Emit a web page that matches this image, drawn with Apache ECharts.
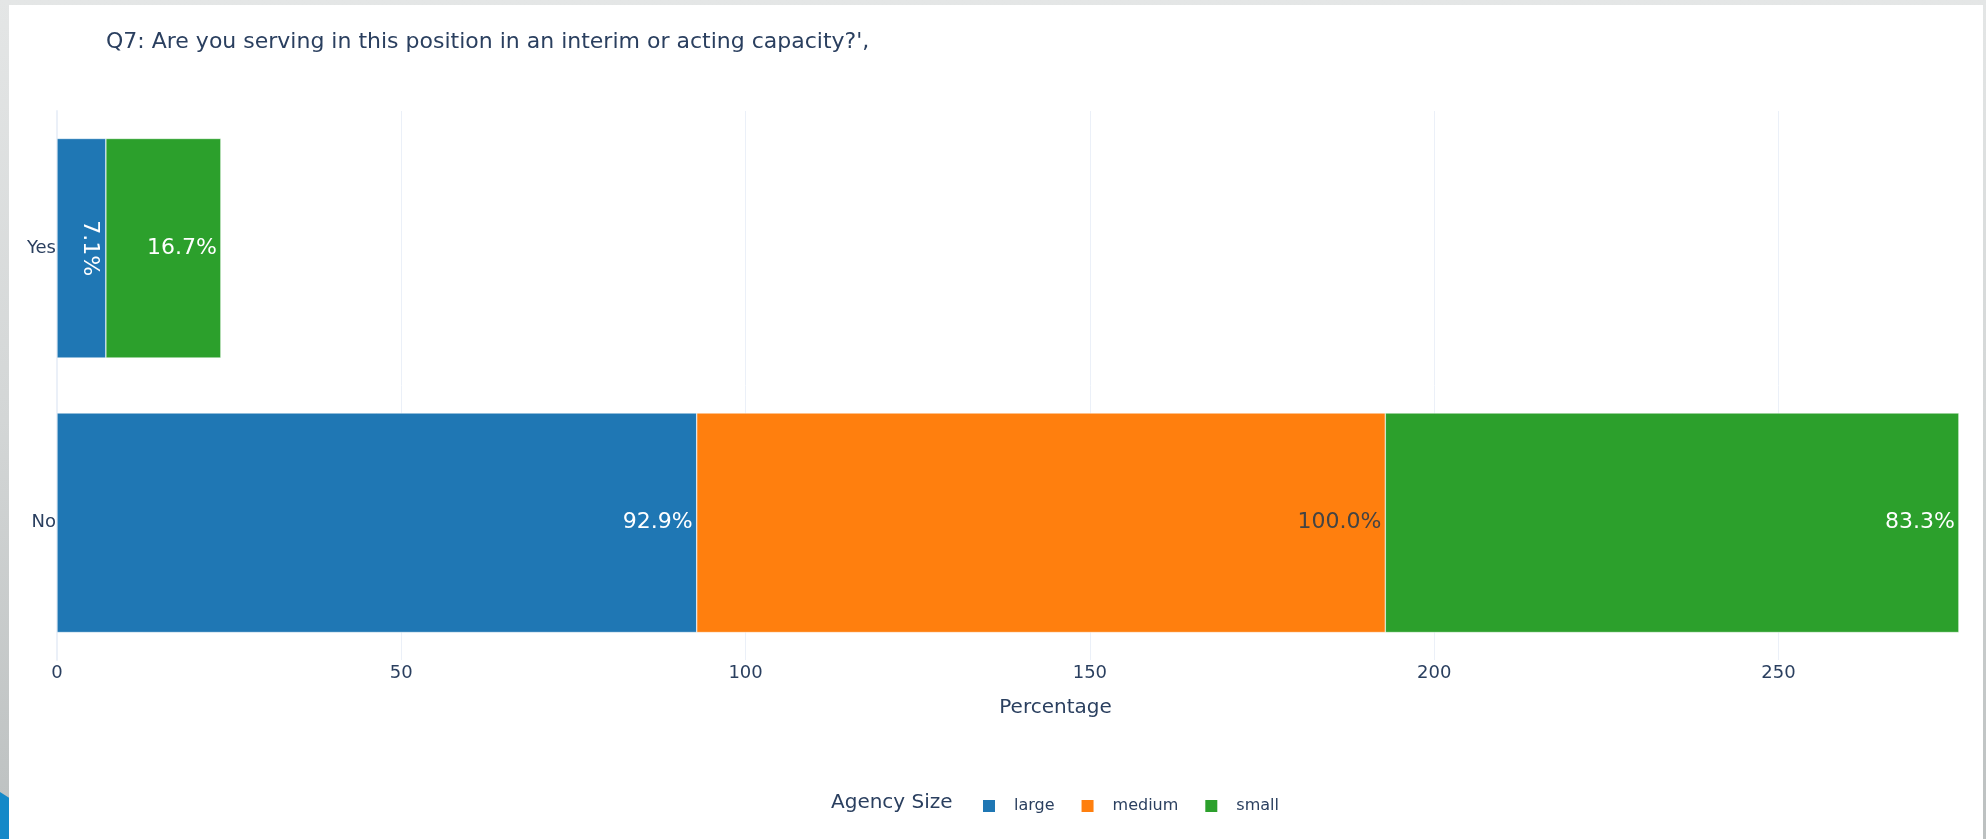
<!DOCTYPE html>
<html>
<head>
<meta charset="utf-8">
<title>Q7: Interim or acting capacity</title>
<script src="https://cdn.jsdelivr.net/npm/echarts@6/dist/echarts.min.js"></script>
<style>
  html, body { margin: 0; padding: 0; width: 1986px; height: 839px; overflow: hidden; }
  body { background: linear-gradient(to bottom, #e4e6e6 0%, #d3d6d6 50%, #bcc0c0 100%); position: relative; }
  #chart { position: absolute; left: 9px; top: 5px; width: 2100px; height: 834px; background: #ffffff; }
  #edge { position: absolute; left: 1983px; top: 0; width: 3px; height: 839px; z-index: 2;
          background: linear-gradient(to bottom, #e4e6e6 0%, #d3d6d6 50%, #bcc0c0 100%); }
  #corner { position: absolute; left: 0; top: 792px; width: 9px; height: 47px; background: #1589c8; z-index: 2;
            clip-path: polygon(0 0, 100% 12%, 100% 100%, 0 100%); }
</style>
</head>
<body>
<div id="chart"></div>
<div id="edge"></div>
<div id="corner"></div>
<script>
// Answers, top row first
const categories = ['Yes', 'No'];
// Share of respondents (%) per agency size
const largeValues = [7.1, 92.9];
const mediumValues = [null, 100.0];
const smallValues = [16.7, 83.3];
const xTicks = [0, 50, 100, 150, 200, 250];
const legendTitle = 'Agency Size';
const chartTitle = "Q7: Are you serving in this position in an interim or acting capacity?',";

const FONT = '"DejaVu Sans", Verdana, sans-serif';
const INK = '#2a3f5f';
const GRID = '#ebf0f8';

// Value axis runs a little past the longest stack
const stackTotals = categories.map((_, i) =>
  (largeValues[i] || 0) + (mediumValues[i] || 0) + (smallValues[i] || 0));
const xMax = Math.max(...stackTotals) * 1.05;

const pct = p => p.value == null ? '' : Number(p.value).toFixed(1) + '%';

function barLabel(color) {
  return {
    show: true,
    position: 'insideRight',
    distance: 4,
    formatter: pct,
    color: color,
    fontSize: 22,
    fontFamily: FONT
  };
}

// The narrow "Yes" segment of the large series gets its label turned on its side
const largeData = largeValues.map((v, i) => {
  if (categories[i] === 'Yes') {
    return {
      value: v,
      label: { rotate: -90, align: 'center', verticalAlign: 'middle', distance: 16 }
    };
  }
  return v;
});

const barStyle = color => ({ color: color, borderColor: '#ffffff', borderWidth: 0.5 });

const chart = echarts.init(document.getElementById('chart'), null, { renderer: 'canvas' });
chart.setOption({
  animation: false,
  backgroundColor: '#ffffff',
  title: {
    text: chartTitle,
    left: 92,
    top: 21,
    textStyle: { color: INK, fontSize: 22, lineHeight: 22, fontWeight: 'normal', fontFamily: FONT }
  },
  grid: { left: 48, right: 55, top: 106, bottom: 179, containLabel: false },
  xAxis: {
    type: 'value',
    min: 0,
    max: xMax,
    interval: 50,
    name: 'Percentage',
    nameLocation: 'middle',
    nameGap: 38,
    nameTextStyle: { color: INK, fontSize: 20, fontFamily: FONT },
    axisLine: { show: false },
    axisTick: { show: false },
    axisLabel: {
      color: INK, fontSize: 18, fontFamily: FONT, margin: 4,
      showMaxLabel: false,
      formatter: v => (xTicks.indexOf(v) >= 0 ? String(v) : '')
    },
    splitLine: { show: true, showMinLine: false, showMaxLine: false, lineStyle: { color: GRID, width: 1 } }
  },
  yAxis: {
    type: 'category',
    data: categories,
    inverse: true,
    axisLine: { show: true, lineStyle: { color: GRID, width: 2 } },
    axisTick: { show: false },
    axisLabel: { color: INK, fontSize: 18, fontFamily: FONT, margin: 1 },
    splitLine: { show: false }
  },
  legend: {
    left: 967,
    top: 788,
    orient: 'horizontal',
    itemWidth: 14,
    itemHeight: 14,
    itemGap: 25,
    icon: 'rect',
    selectedMode: false,
    textStyle: { color: INK, fontSize: 16, fontFamily: FONT, padding: [0, 0, 0, 13] },
    data: ['large', 'medium', 'small']
  },
  graphic: [{
    type: 'text',
    left: 822,
    top: 788,
    style: { text: legendTitle, fill: INK, fontSize: 20, fontFamily: FONT }
  }],
  series: [
    {
      name: 'large', type: 'bar', stack: 'total', barCategoryGap: '20%',
      itemStyle: barStyle('#1f77b4'), label: barLabel('#ffffff'), data: largeData
    },
    {
      name: 'medium', type: 'bar', stack: 'total', barCategoryGap: '20%',
      itemStyle: barStyle('#ff7f0e'), label: barLabel('#444444'), data: mediumValues
    },
    {
      name: 'small', type: 'bar', stack: 'total', barCategoryGap: '20%',
      itemStyle: barStyle('#2ca02c'), label: barLabel('#ffffff'), data: smallValues
    }
  ]
});
</script>
</body>
</html>
